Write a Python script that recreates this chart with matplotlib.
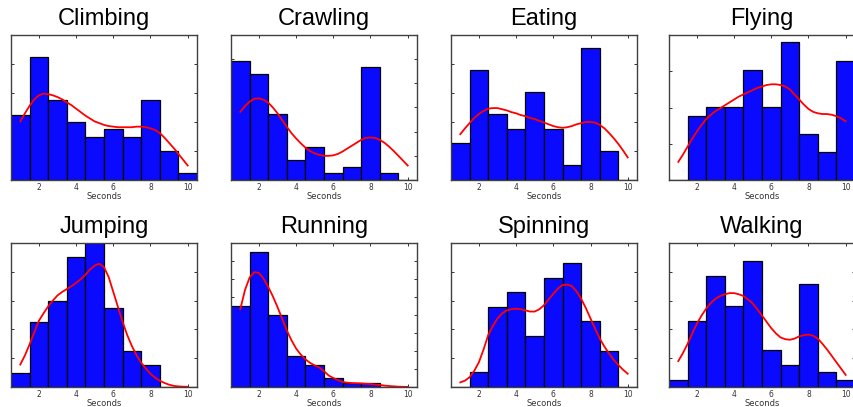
import matplotlib
matplotlib.use('Agg')
import matplotlib.pyplot as plt
import numpy as np

# --- histogram counts per 1 s bin (bins centred on 1..10 s) ---
bin_centers = [1, 2, 3, 4, 5, 6, 7, 8, 9, 10]

activities = ['Climbing', 'Crawling', 'Eating', 'Flying',
              'Jumping', 'Running', 'Spinning', 'Walking']

climbing_counts = [9, 17, 11, 8, 6, 7, 6, 11, 4, 1]
crawling_counts = [18, 16, 10, 3, 5, 1, 2, 17, 1, 0]
eating_counts = [5, 15, 9, 7, 12, 7, 2, 18, 4, 0]
flying_counts = [0, 7, 8, 8, 12, 8, 15, 5, 3, 13]
jumping_counts = [2, 9, 12, 18, 20, 11, 5, 3, 0, 0]
running_counts = [18, 30, 16, 7, 5, 2, 1, 1, 0, 0]
spinning_counts = [0, 2, 11, 13, 7, 15, 17, 9, 5, 0]
walking_counts = [1, 9, 15, 11, 17, 5, 3, 14, 2, 1]

# --- kernel density estimates, sampled every quarter second ---
kde_x = [1.0, 1.25, 1.5, 1.75, 2.0, 2.25, 2.5, 2.75, 3.0, 3.25,
         3.5, 3.75, 4.0, 4.25, 4.5, 4.75, 5.0, 5.25, 5.5, 5.75,
         6.0, 6.25, 6.5, 6.75, 7.0, 7.25, 7.5, 7.75, 8.0, 8.25,
         8.5, 8.75, 9.0, 9.25, 9.5, 9.75, 10.0]

climbing_kde = [0.101, 0.115, 0.128, 0.139, 0.146, 0.149, 0.148, 0.146, 0.143, 0.139,
                0.134, 0.129, 0.123, 0.117, 0.111, 0.106, 0.101, 0.098, 0.095, 0.093,
                0.092, 0.091, 0.091, 0.091, 0.091, 0.092, 0.092, 0.091, 0.089, 0.086,
                0.081, 0.073, 0.064, 0.055, 0.045, 0.035, 0.025]
crawling_kde = [0.141, 0.153, 0.162, 0.168, 0.169, 0.166, 0.160, 0.150, 0.138, 0.124,
                0.110, 0.097, 0.086, 0.076, 0.067, 0.060, 0.055, 0.052, 0.050, 0.050,
                0.051, 0.054, 0.059, 0.065, 0.071, 0.077, 0.083, 0.087, 0.088, 0.087,
                0.083, 0.077, 0.069, 0.060, 0.050, 0.040, 0.030]
eating_kde = [0.079, 0.089, 0.098, 0.107, 0.114, 0.119, 0.123, 0.124, 0.124, 0.122,
              0.120, 0.117, 0.115, 0.112, 0.110, 0.107, 0.105, 0.102, 0.099, 0.096,
              0.093, 0.091, 0.090, 0.091, 0.093, 0.096, 0.098, 0.100, 0.100, 0.099,
              0.095, 0.089, 0.081, 0.072, 0.062, 0.051, 0.039]
flying_kde = [0.025, 0.035, 0.046, 0.057, 0.067, 0.076, 0.084, 0.090, 0.095, 0.099,
              0.103, 0.107, 0.111, 0.115, 0.118, 0.121, 0.124, 0.127, 0.129, 0.131,
              0.132, 0.132, 0.131, 0.129, 0.125, 0.118, 0.111, 0.104, 0.098, 0.094,
              0.092, 0.091, 0.091, 0.090, 0.088, 0.085, 0.081]
jumping_kde = [0.039, 0.055, 0.074, 0.095, 0.115, 0.128, 0.140, 0.150, 0.159, 0.165,
               0.170, 0.175, 0.181, 0.187, 0.195, 0.204, 0.211, 0.214, 0.208, 0.191,
               0.165, 0.139, 0.113, 0.090, 0.071, 0.055, 0.042, 0.032, 0.023, 0.016,
               0.011, 0.007, 0.004, 0.002, 0.001, 0.0006, 0.0003]
running_kde = [0.216, 0.269, 0.304, 0.319, 0.317, 0.301, 0.278, 0.252, 0.222, 0.190,
               0.157, 0.130, 0.107, 0.090, 0.077, 0.067, 0.060, 0.054, 0.044, 0.032,
               0.025, 0.019, 0.014, 0.012, 0.011, 0.0105, 0.010, 0.009, 0.0083, 0.007,
               0.0056, 0.004, 0.0028, 0.0018, 0.0009, 0.0005, 0.0003]
spinning_kde = [0.008, 0.011, 0.017, 0.028, 0.043, 0.065, 0.090, 0.106, 0.119, 0.128,
                0.133, 0.135, 0.136, 0.135, 0.133, 0.131, 0.131, 0.135, 0.142, 0.152,
                0.162, 0.171, 0.177, 0.178, 0.175, 0.166, 0.153, 0.137, 0.119, 0.101,
                0.084, 0.070, 0.058, 0.047, 0.038, 0.030, 0.023]
walking_kde = [0.045, 0.059, 0.075, 0.093, 0.110, 0.124, 0.136, 0.146, 0.153, 0.158,
               0.161, 0.163, 0.163, 0.161, 0.158, 0.152, 0.145, 0.135, 0.124, 0.113,
               0.102, 0.093, 0.086, 0.083, 0.082, 0.084, 0.088, 0.090, 0.091, 0.089,
               0.084, 0.075, 0.065, 0.054, 0.043, 0.032, 0.021]

y_tops = [0.25, 0.30, 0.25, 0.20, 0.25, 0.40, 0.25, 0.25]

all_counts = [climbing_counts, crawling_counts, eating_counts, flying_counts,
              jumping_counts, running_counts, spinning_counts, walking_counts]
all_kde = [climbing_kde, crawling_kde, eating_kde, flying_kde,
           jumping_kde, running_kde, spinning_kde, walking_kde]

# --- figure layout (pixels -> figure fraction) ---
W, H = 854, 407
fig = plt.figure(figsize=(W / 100, H / 100), dpi=100)

col_left = [11, 231, 451, 669]
ax_w = 186
row_top = [35, 243]
row_h = [145, 144]

for i, name in enumerate(activities):
    r, c = divmod(i, 4)
    rect = [col_left[c] / W, 1 - (row_top[r] + row_h[r]) / H,
            ax_w / W, row_h[r] / H]
    ax = fig.add_axes(rect)

    counts = np.array(all_counts[i], dtype=float)
    density = counts / counts.sum()
    ax.bar(bin_centers, density, width=1.0, color='#0a0aff',
           edgecolor='black', linewidth=0.9, zorder=2)
    ax.plot(kde_x, all_kde[i], color='red', linewidth=1.3, zorder=3)

    ax.set_xlim(0.5, 10.5)
    ax.set_ylim(0, y_tops[i])
    ax.set_xticks([2, 4, 6, 8, 10])
    ax.set_yticks(np.arange(0, y_tops[i] + 0.001, 0.05))
    ax.set_yticklabels([])
    ax.tick_params(direction='in', length=2.5, width=0.7, top=True, right=True,
                   labelsize=5.5, labelcolor='#333333', pad=2, color='#333333')
    for sp in ax.spines.values():
        sp.set_color('#404040')
        sp.set_linewidth(1.0)
        sp.set_zorder(4)

    ax.set_xlabel('Seconds', fontsize=6, color='#333333', labelpad=0.5)
    ax.set_title(name, fontsize=17, family='Liberation Sans', pad=7)

fig.savefig('out.png', dpi=100)
